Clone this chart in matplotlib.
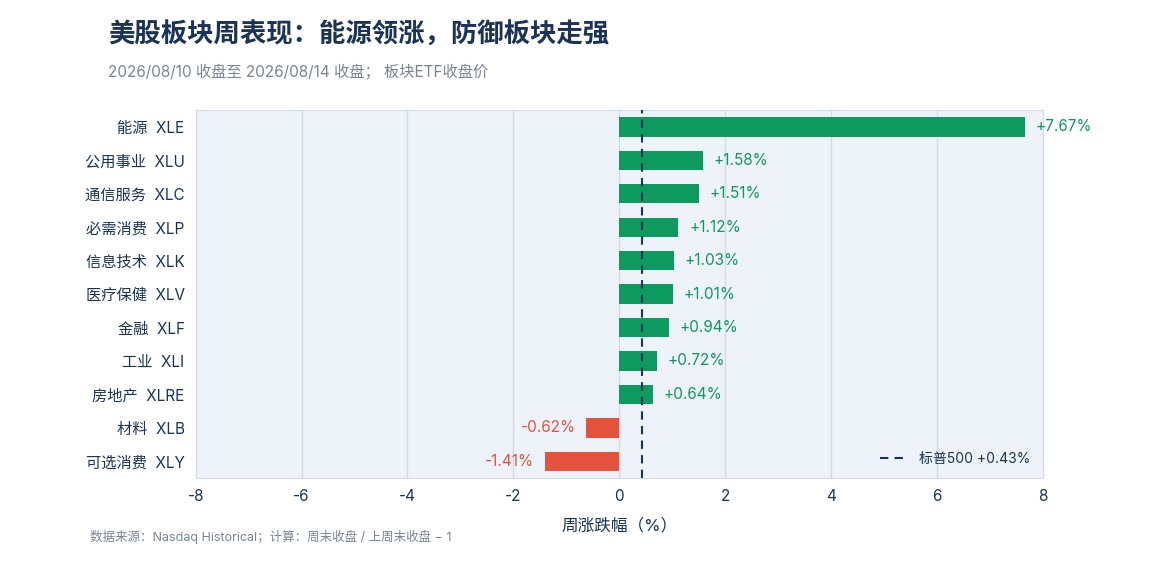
import matplotlib.pyplot as plt

plt.rcParams['font.family'] = ['Inter', 'Noto Sans CJK SC', 'DejaVu Sans']

sectors = ["能源  XLE", "公用事业  XLU", "通信服务  XLC", "必需消费  XLP", "信息技术  XLK",
           "医疗保健  XLV", "金融  XLF", "工业  XLI", "房地产  XLRE", "材料  XLB", "可选消费  XLY"]
changes = [7.67, 1.58, 1.51, 1.12, 1.03, 1.01, 0.94, 0.72, 0.64, -0.62, -1.41]
spx = 0.43
ticks = [-8, -6, -4, -2, 0, 2, 4, 6, 8]

green = "#0e9a5e"
red = "#e5533f"
navy = "#1a3357"

fig = plt.figure(figsize=(11.65, 5.65), dpi=100)
ax = fig.add_axes([0.168, 0.154, 0.727, 0.651])
ax.set_facecolor("#eef2f9")

y = list(range(len(sectors)))
colors = [green if v >= 0 else red for v in changes]
ax.barh(y, changes, height=0.58, color=colors, zorder=3)
for yi, v in zip(y, changes):
    if v >= 0:
        ax.text(v + 0.2, yi, f"+{v:.2f}%", va="center", ha="left", color=green, fontsize=11)
    else:
        ax.text(v - 0.2, yi, f"{v:.2f}%", va="center", ha="right", color=red, fontsize=11)

ax.axvline(spx, color=navy, linestyle=(0, (4, 3)), linewidth=1.5, zorder=4, label=f"标普500 +{spx:.2f}%")
ax.set_xlim(-8, 8)
ax.set_xticks(ticks)
ax.set_xticklabels([str(t) for t in ticks])
ax.set_ylim(len(sectors) - 0.5, -0.5)
ax.set_yticks(y)
ax.set_yticklabels(sectors)
ax.tick_params(axis="both", length=0, labelsize=11, colors=navy, pad=8)
ax.grid(axis="x", color="#d5dbe6", linewidth=1, zorder=0)
for s in ax.spines.values():
    s.set_color("#d5dbe6")
ax.set_xlabel("周涨跌幅（%）", fontsize=12, color=navy, labelpad=10)
ax.legend(loc="lower right", frameon=False, fontsize=10, labelcolor=navy, handlelength=2)

fig.text(0.093, 0.925, "美股板块周表现：能源领涨，防御板块走强", fontsize=19, fontweight="bold", color=navy)
fig.text(0.093, 0.865, "2026/08/10 收盘至 2026/08/14 收盘； 板块ETF收盘价", fontsize=11, color="#7a8494")
fig.text(0.077, 0.042, "数据来源：Nasdaq Historical；计算：周末收盘 / 上周末收盘 − 1", fontsize=9, color="#7a8494")

fig.savefig("out.png", dpi=100, facecolor="white")
